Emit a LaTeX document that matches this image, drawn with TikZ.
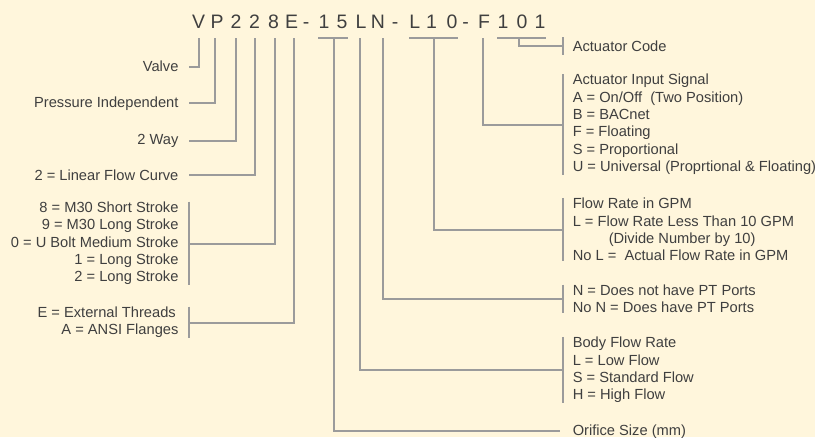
\documentclass[tikz,border=0pt]{standalone}
\usepackage{fontspec}
\setmainfont{Liberation Sans}
\usetikzlibrary{positioning}

\definecolor{paper}{HTML}{FFF6DC}
\definecolor{leadgray}{HTML}{9B9B9B}
\definecolor{ink}{HTML}{3F3F3F}

\tikzset{
  leader/.style={draw=leadgray, line width=1.5pt},
  lbl/.style={font=\fontsize{11}{13}\selectfont, text=ink, inner xsep=7.5pt, inner ysep=0pt},
  lblL/.style={lbl, anchor=east, align=right},
  lblR/.style={lbl, anchor=west, align=left},
  codechar/.style={font=\fontsize{14.6}{16}\selectfont, text=ink, inner sep=0pt, anchor=base}
}

\begin{document}
\begin{tikzpicture}[x=0.75pt, y=-0.75pt]

% Background
\fill[paper] (0,0) rectangle (815,437);
\useasboundingbox (0,0) rectangle (815,437);

% Dimensions
\def\barY{38}   % top of the leaders
\def\leftX{188.7}  % left brackets
\def\rightX{562.5} % right brackets

% Model code
\foreach \ch/\cx [count=\i] in {V/198.7, P/217, 2/236, 2/254.5, 8/273.5, E/291.7, -/306, 1/324, 5/342, L/361,
                                N/378, -/395, L/414.7, 1/431.5, 0/452, -/465.5, F/484, 1/503, 0/522, 1/540}
  \node[codechar] (c\i) at (\cx,28.7) {\ch};

% Leader tops
\coordinate (tV)   at (199.3,\barY);
\coordinate (tP)   at (215,\barY);
\coordinate (tWay) at (235.7,\barY);
\coordinate (tLin) at (254.7,\barY);
\coordinate (tStr) at (275.3,\barY);
\coordinate (tE)   at (294.3,\barY);
\coordinate (tOr)  at (334,\barY);
\coordinate (tBody) at (360,\barY);
\coordinate (tPT)  at (383.3,\barY);
\coordinate (tGPM) at (433.7,\barY);
\coordinate (tSig) at (482.7,\barY);
\coordinate (tAct) at (519,\barY);

% Labels (left)
\node[lblL] (valve)  at (\leftX,66.7)  {Valve};
\node[lblL] (press)  at (\leftX,103.3) {Pressure Independent};
\node[lblL] (way)    at (\leftX,141)   {2 Way};
\node[lblL] (curve)  at (\leftX,175)   {2 = Linear Flow Curve};
\node[lblL] (stroke) at (\leftX,243.5) {8 = M30 Short Stroke\\9 = M30 Long Stroke\\0 = U Bolt Medium Stroke\\1 = Long Stroke\\2 = Long Stroke};
\node[lblL] (conn)   at (\leftX,322.5) {E = External Threads\hspace*{2pt}\\A = ANSI Flanges};

% Labels (right)
\node[lblR, inner ysep=2.5pt] (actcode) at (\rightX,46) {Actuator Code};
\node[lblR] (signal) at (\rightX,124.5) {Actuator Input Signal\\A = On/Off\ \ (Two Position)\\B = BACnet\\F = Floating\\S = Proportional\\U = Universal (Proprtional \& Floating)};
\node[lblR] (gpm)    at (\rightX,229.5) {Flow Rate in GPM\\L = Flow Rate Less Than 10 GPM\\\hspace*{27pt}(Divide Number by 10)\\No L = \ Actual Flow Rate in GPM};
\node[lblR] (ports)  at (\rightX,299)   {N = Does not have PT Ports\\No N = Does have PT Ports};
\node[lblR] (body)   at (\rightX,370)   {Body Flow Rate\\L = Low Flow\\S = Standard Flow\\H = High Flow};
\node[lblR] (orif)   at (\rightX,431.2) {Orifice Size (mm)};

% Brackets
\foreach \n in {stroke, conn}
  \draw[leader] (\n.north east) -- (\n.south east);
\foreach \n in {actcode, signal, gpm, ports, body}
  \draw[leader] (\n.north west) -- (\n.south west);

% Bars over grouped digits
\draw[leader] (c8.west |- tOr) -- (c9.east |- tOr);
\draw[leader] (c13.west |- tGPM) -- (c15.east |- tGPM);
\draw[leader] (c18.west |- tAct) -- (c20.east |- tAct);

% Leaders
\draw[leader] (tV)   |- (valve.east);
\draw[leader] (tP)   |- (press.east);
\draw[leader] (tWay) |- (way.east);
\draw[leader] (tLin) |- (curve.east);
\draw[leader] (tStr) |- (stroke.east);
\draw[leader] (tE)   |- (conn.east);
\draw[leader] (tAct) |- (actcode.west);
\draw[leader] (tSig) |- (signal.west);
\draw[leader] (tGPM) |- (gpm.west);
\draw[leader] (tPT)  |- (ports.west);
\draw[leader] (tBody) |- (body.west);
\draw[leader] (tOr)  |- ([xshift=-1.9pt]orif.west);

\end{tikzpicture}
\end{document}
